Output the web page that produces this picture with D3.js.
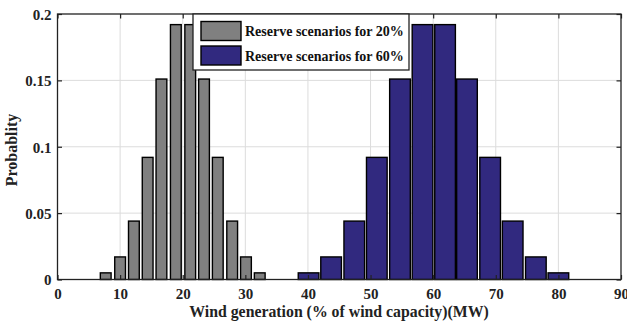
<!DOCTYPE html>
<html><head><meta charset="utf-8">
<script src="https://cdn.jsdelivr.net/npm/d3@7"></script>
<style>body{margin:0;background:#fff}svg{display:block}text{font-family:"Liberation Serif","Times New Roman",serif;font-weight:bold}</style>
</head><body><svg id="c" width="627" height="323"></svg>
<script>
const grayCenters = [7.7,10.0,12.2,14.4,16.6,18.9,21.2,23.4,25.6,27.9,30.1,32.3];
const blueCenters = [40.1,43.7,47.4,51.0,54.7,58.3,61.9,65.4,69.1,72.7,76.4,80.0];
const grayProb = [0.005,0.017,0.044,0.092,0.151,0.192,0.192,0.151,0.092,0.044,0.017,0.005];
const blueProb = [0.005,0.017,0.044,0.092,0.151,0.192,0.192,0.151,0.092,0.044,0.017,0.005];
const xTicks = [0,10,20,30,40,50,60,70,80,90];
const yTicks = [0,0.05,0.1,0.15,0.2];
const yTickLabels = ["0","0.05","0.1","0.15","0.2"];
const seriesNames = ["Reserve scenarios for 20%","Reserve scenarios for 60%"];

const svg = d3.select("#c");
const L=57.5,R=621,T=14,B=279.5;
const x = d3.scaleLinear().domain([0,90]).range([L,R]);
const y = d3.scaleLinear().domain([0,0.2]).range([B,T]);

// grid
svg.append("g").selectAll("line").data(xTicks.slice(1,-1)).join("line")
  .attr("x1",d=>x(d)).attr("x2",d=>x(d)).attr("y1",T).attr("y2",B)
  .attr("stroke","#dcdcdc").attr("stroke-width",1);
svg.append("g").selectAll("line").data(yTicks.slice(1,-1)).join("line")
  .attr("y1",d=>y(d)).attr("y2",d=>y(d)).attr("x1",L).attr("x2",R)
  .attr("stroke","#dcdcdc").attr("stroke-width",1);

function bars(centers, probs, w, fill){
  const data = centers.map((c,i)=>({c,p:probs[i]}));
  svg.append("g").selectAll("rect").data(data).join("rect")
    .attr("x",d=>x(d.c-w/2)).attr("width",d=>x(d.c+w/2)-x(d.c-w/2))
    .attr("y",d=>y(d.p)).attr("height",d=>y(0)-y(d.p))
    .attr("fill",fill).attr("stroke","#000").attr("stroke-width",1.4);
}
bars(grayCenters, grayProb, 1.72, "#808080");
bars(blueCenters, blueProb, 3.3, "#31297f");

// axes box
svg.append("rect").attr("x",L).attr("y",T).attr("width",R-L).attr("height",B-T)
  .attr("fill","none").attr("stroke","#222").attr("stroke-width",1.3);

// ticks (inward, all sides)
const tl=4.5;
const gx = svg.append("g").attr("transform",`translate(0,${B})`)
  .call(d3.axisBottom(x).tickValues(xTicks).tickSizeInner(-tl).tickSizeOuter(0).tickPadding(9));
const gxt = svg.append("g").attr("transform",`translate(0,${T})`)
  .call(d3.axisTop(x).tickValues(xTicks).tickSizeInner(-tl).tickSizeOuter(0).tickFormat(""));
const gy = svg.append("g").attr("transform",`translate(${L},0)`)
  .call(d3.axisLeft(y).tickValues(yTicks).tickSizeInner(-tl).tickSizeOuter(0).tickPadding(6)
    .tickFormat((d,i)=>yTickLabels[i]));
const gyr = svg.append("g").attr("transform",`translate(${R},0)`)
  .call(d3.axisRight(y).tickValues(yTicks).tickSizeInner(-tl).tickSizeOuter(0).tickFormat(""));
[gx,gxt,gy,gyr].forEach(g=>{
  g.select(".domain").remove();
  g.selectAll(".tick line").attr("stroke","#222").attr("stroke-width",1.2);
  g.selectAll("text").attr("fill","#222").style("font-size","15px")
   .style("font-family",'"Liberation Serif","Times New Roman",serif').style("font-weight","bold");
});
gy.selectAll("text").attr("dy","0.35em");

// labels
svg.append("text").attr("x",339).attr("y",317).attr("text-anchor","middle")
  .style("font-size","15.8px").attr("fill","#222").text("Wind generation (% of wind capacity)(MW)");
svg.append("text").attr("transform",`translate(17,150) rotate(-90)`).attr("text-anchor","middle")
  .style("font-size","16px").attr("fill","#222").text("Probablity");

// legend
const lg = svg.append("g");
lg.append("rect").attr("x",193).attr("y",14).attr("width",216).attr("height",56)
  .attr("fill","#fff").attr("stroke","#222").attr("stroke-width",1.3);
const colors=["#808080","#31297f"];
seriesNames.forEach((n,i)=>{
  lg.append("rect").attr("x",201).attr("y",21.5+i*24.5).attr("width",40).attr("height",19)
    .attr("fill",colors[i]).attr("stroke","#000").attr("stroke-width",1.4);
  lg.append("text").attr("x",245).attr("y",36+i*24.5).style("font-size","14px")
    .attr("fill","#111").text(n);
});
</script></body></html>
